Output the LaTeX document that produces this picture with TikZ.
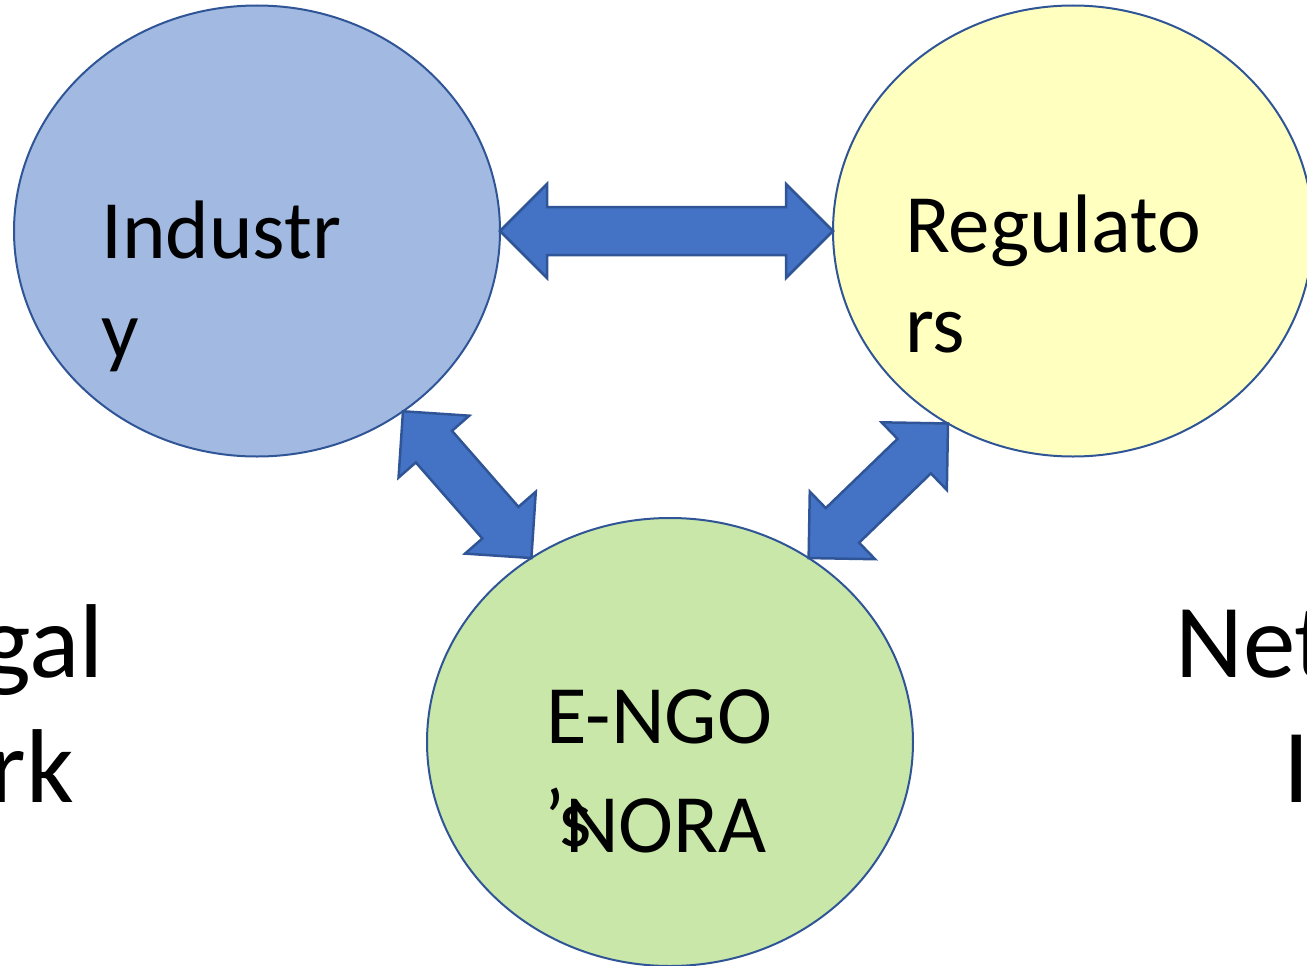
\documentclass[tikz,border=0pt]{standalone}
\usepackage{fontspec}
\setmainfont{Carlito}
\usetikzlibrary{calc,shapes.geometric}
\definecolor{edgeblue}{RGB}{47,85,151}
\definecolor{arrowblue}{RGB}{68,114,196}
\definecolor{indfill}{RGB}{162,185,225}
\definecolor{regfill}{RGB}{255,255,192}
\definecolor{ngofill}{RGB}{201,231,169}
\tikzset{
  bubble/.style={ellipse,draw=edgeblue,line width=2pt,inner sep=0pt,outer sep=0pt},
  arrowshape/.style={fill=arrowblue,draw=edgeblue,line width=2.5pt,line join=miter},
  bigtext/.style={inner sep=0pt,anchor=base west,font=\fontsize{83}{100}\selectfont},
  sidetext/.style={inner sep=0pt,font=\fontsize{105}{127}\selectfont}
}
\newcommand\dblarr[2]{%
  \path[arrowshape] (#1)
   -- ($(#1)!47pt!(#2)!47pt!90:(#2)$)
   -- ($(#1)!47pt!(#2)!24pt!90:(#2)$)
   -- ($(#2)!47pt!(#1)!24pt!-90:(#1)$)
   -- ($(#2)!47pt!(#1)!47pt!-90:(#1)$)
   -- (#2)
   -- ($(#2)!47pt!(#1)!47pt!90:(#1)$)
   -- ($(#2)!47pt!(#1)!24pt!90:(#1)$)
   -- ($(#1)!47pt!(#2)!24pt!-90:(#2)$)
   -- ($(#1)!47pt!(#2)!47pt!-90:(#2)$)
   -- cycle;}
\begin{document}
\begin{tikzpicture}[x=1pt,y=-1pt]
\useasboundingbox (0,0) rectangle (1307,966);
\clip (0,0) rectangle (1307,966);
\node[bubble,fill=indfill,minimum width=486pt,minimum height=451pt] (ind) at (257,231) {};
\node[bubble,fill=regfill,minimum width=480pt,minimum height=451pt] (reg) at (1073,231) {};
\node[bubble,fill=ngofill,minimum width=486pt,minimum height=448pt] (ngo) at (670,742) {};
\coordinate (a1) at (ind.east);
\coordinate (a2) at (reg.west);
\coordinate (b1) at (ind.-51.5);
\coordinate (b2) at (ngo.127);
\coordinate (c1) at (reg.-123.5);
\coordinate (c2) at (ngo.53.3);
\dblarr{a1}{a2}
\dblarr{b1}{b2}
\dblarr{c1}{c2}
\node[bigtext] (t1) at (101,258) {Industr};
\node[bigtext] (t2) at (101,358) {y};
\node[bigtext] (t3) at (905,252) {Regulato};
\node[bigtext] (t4) at (905,352) {rs};
\node[bigtext] (t5) at (546,743) {E-NGO};
\node[bigtext] (t6) at (544,846) {’s};
\node[bigtext] (t7) at (565,852) {NORA};
\node[sidetext,anchor=base east] (s1) at (104,677) {gal};
\node[sidetext,anchor=base east] (s2) at (74,802) {rk};
\node[sidetext,anchor=base west] (s3) at (1175,677) {Net};
\node[sidetext,anchor=base west] (s4) at (1283,802) {I};
\end{tikzpicture}
\end{document}
